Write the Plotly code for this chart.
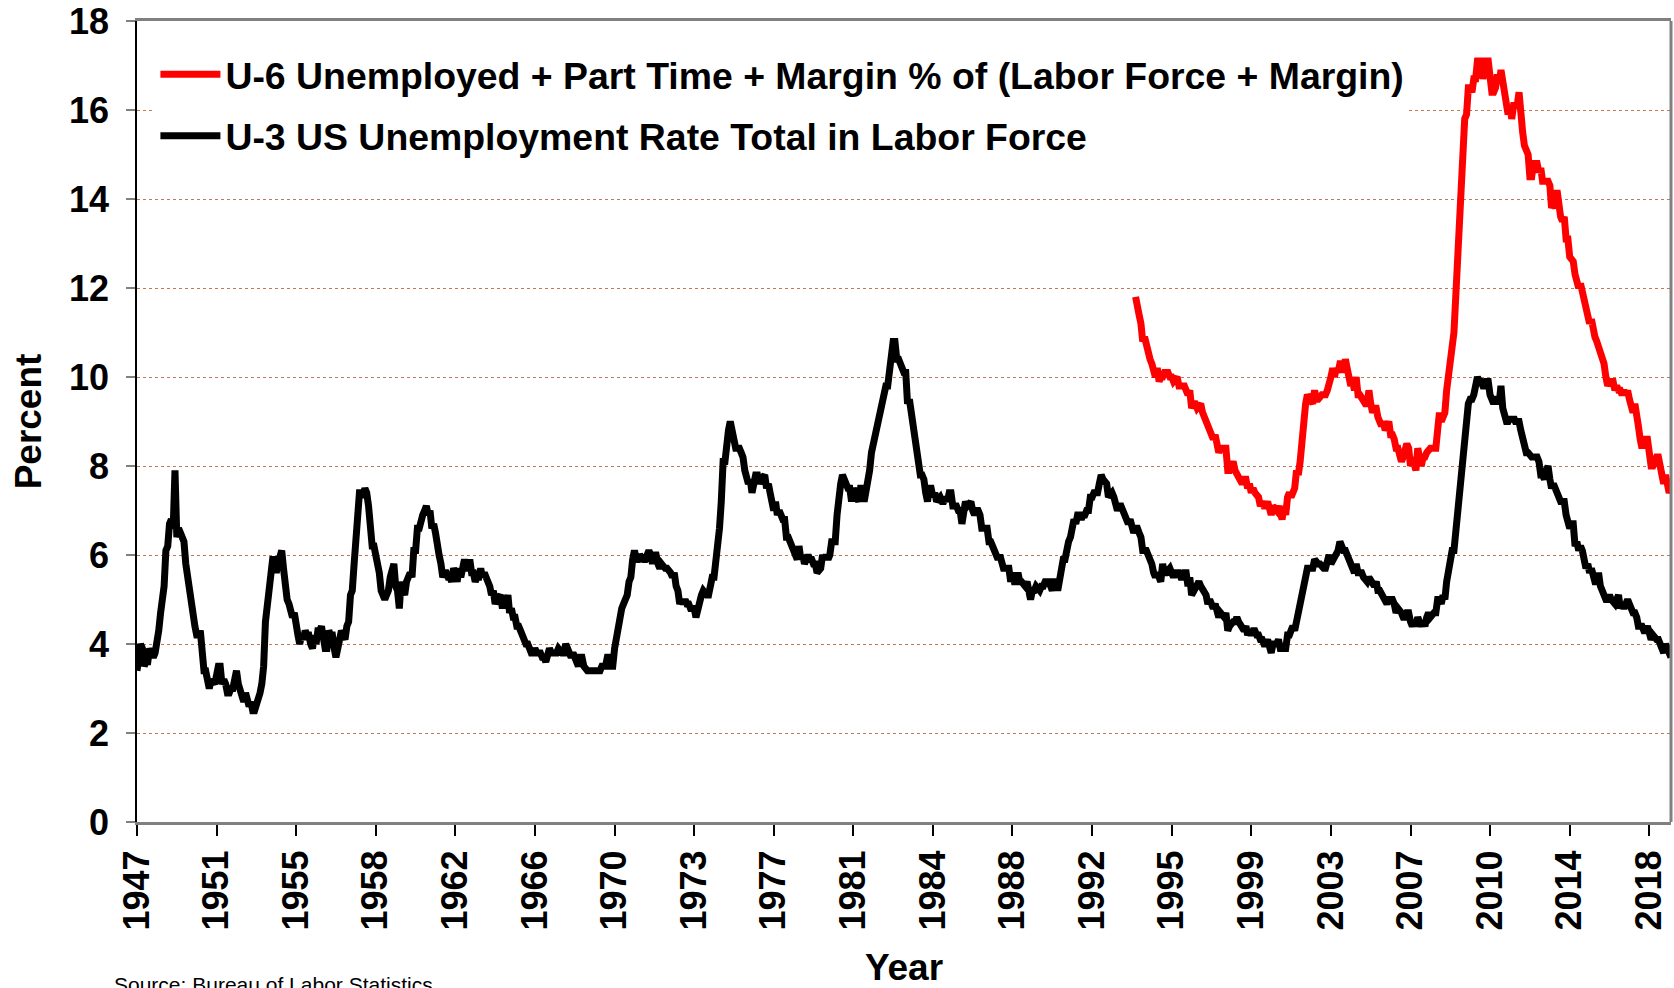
import plotly.graph_objects as go
import pandas as pd

# U-3 monthly unemployment rate, Jan 1948 .. Sep 2018
u3_values = [
    3.4, 3.8, 4.0, 3.9, 3.5, 3.6, 3.6, 3.9, 3.8, 3.7, 3.8, 4.0,
    4.3, 4.7, 5.0, 5.3, 6.1, 6.2, 6.7, 6.8, 6.6, 7.9, 6.4, 6.6,
    6.5, 6.4, 6.3, 5.8, 5.5, 5.4, 5.0, 4.5, 4.4, 4.2, 4.2, 4.3,
    3.7, 3.4, 3.4, 3.1, 3.0, 3.2, 3.1, 3.1, 3.3, 3.5, 3.5, 3.1,
    3.2, 3.1, 2.9, 2.9, 3.0, 3.0, 3.2, 3.4, 3.1, 3.0, 2.8, 2.7,
    2.9, 2.6, 2.6, 2.7, 2.5, 2.5, 2.6, 2.7, 2.9, 3.1, 3.5, 4.5,
    4.9, 5.2, 5.7, 5.9, 5.9, 5.6, 5.8, 6.0, 6.1, 5.7, 5.3, 5.0,
    4.9, 4.7, 4.6, 4.7, 4.3, 4.2, 4.0, 4.2, 4.1, 4.3, 4.2, 4.2,
    4.0, 3.9, 4.2, 4.0, 4.3, 4.3, 4.4, 4.1, 3.9, 3.9, 4.3, 4.2,
    4.2, 3.9, 3.7, 3.9, 4.1, 4.3, 4.2, 4.1, 4.4, 4.5, 5.1, 5.2,
    5.8, 6.4, 6.7, 7.4, 7.4, 7.3, 7.5, 7.4, 7.1, 6.7, 6.2, 6.2,
    6.0, 5.9, 5.6, 5.2, 5.1, 5.0, 5.1, 5.2, 5.5, 5.7, 5.8, 5.3,
    5.2, 4.8, 5.4, 5.2, 5.1, 5.4, 5.5, 5.6, 5.5, 6.1, 6.1, 6.6,
    6.6, 6.9, 6.9, 7.0, 7.1, 6.9, 7.0, 6.6, 6.7, 6.5, 6.1, 6.0,
    5.8, 5.5, 5.6, 5.6, 5.5, 5.5, 5.4, 5.7, 5.6, 5.4, 5.7, 5.5,
    5.7, 5.9, 5.7, 5.7, 5.9, 5.6, 5.6, 5.4, 5.5, 5.5, 5.7, 5.5,
    5.6, 5.4, 5.4, 5.3, 5.1, 5.2, 4.9, 5.0, 5.1, 5.1, 4.8, 5.0,
    4.9, 5.1, 4.7, 4.8, 4.6, 4.6, 4.4, 4.4, 4.3, 4.2, 4.1, 4.0,
    4.0, 3.8, 3.8, 3.8, 3.9, 3.8, 3.8, 3.8, 3.7, 3.7, 3.6, 3.8,
    3.9, 3.8, 3.8, 3.8, 3.8, 3.9, 3.8, 3.8, 3.8, 4.0, 3.9, 3.8,
    3.7, 3.8, 3.7, 3.5, 3.5, 3.7, 3.7, 3.5, 3.4, 3.4, 3.4, 3.4,
    3.4, 3.4, 3.4, 3.4, 3.4, 3.5, 3.5, 3.5, 3.7, 3.7, 3.5, 3.5,
    3.9, 4.2, 4.4, 4.6, 4.8, 4.9, 5.0, 5.1, 5.4, 5.5, 5.9, 6.1,
    5.9, 5.9, 6.0, 5.9, 5.9, 5.9, 6.0, 6.1, 6.0, 5.8, 6.0, 6.0,
    5.8, 5.7, 5.8, 5.7, 5.7, 5.7, 5.6, 5.6, 5.5, 5.6, 5.3, 5.2,
    4.9, 5.0, 4.9, 5.0, 4.9, 4.9, 4.8, 4.8, 4.8, 4.6, 4.8, 4.9,
    5.1, 5.2, 5.1, 5.1, 5.1, 5.4, 5.5, 5.5, 5.9, 6.0, 6.6, 7.2,
    8.1, 8.1, 8.6, 8.8, 9.0, 8.8, 8.6, 8.4, 8.4, 8.4, 8.3, 8.2,
    7.9, 7.7, 7.6, 7.7, 7.4, 7.6, 7.8, 7.8, 7.6, 7.7, 7.8, 7.8,
    7.5, 7.6, 7.4, 7.2, 7.0, 7.2, 6.9, 7.0, 6.8, 6.8, 6.8, 6.4,
    6.4, 6.3, 6.3, 6.1, 6.0, 5.9, 6.2, 5.9, 6.0, 5.8, 5.9, 6.0,
    5.9, 5.9, 5.8, 5.8, 5.6, 5.7, 5.7, 6.0, 5.9, 6.0, 5.9, 6.0,
    6.3, 6.3, 6.3, 6.9, 7.5, 7.6, 7.8, 7.7, 7.5, 7.5, 7.5, 7.2,
    7.5, 7.4, 7.4, 7.2, 7.5, 7.5, 7.2, 7.4, 7.6, 7.9, 8.3, 8.5,
    8.6, 8.9, 9.0, 9.3, 9.4, 9.6, 9.8, 9.8, 10.1, 10.4, 10.8, 10.8,
    10.4, 10.4, 10.3, 10.2, 10.1, 10.1, 9.4, 9.5, 9.2, 8.8, 8.5, 8.3,
    8.0, 7.8, 7.8, 7.7, 7.4, 7.2, 7.5, 7.5, 7.3, 7.4, 7.2, 7.3,
    7.3, 7.2, 7.2, 7.3, 7.2, 7.4, 7.4, 7.1, 7.1, 7.1, 7.0, 7.0,
    6.7, 7.2, 7.2, 7.1, 7.2, 7.2, 7.0, 6.9, 7.0, 7.0, 6.9, 6.6,
    6.6, 6.6, 6.6, 6.3, 6.3, 6.2, 6.1, 6.0, 5.9, 6.0, 5.8, 5.7,
    5.7, 5.7, 5.7, 5.4, 5.6, 5.4, 5.4, 5.6, 5.4, 5.4, 5.3, 5.3,
    5.4, 5.2, 5.0, 5.2, 5.2, 5.3, 5.2, 5.2, 5.3, 5.3, 5.4, 5.4,
    5.4, 5.3, 5.2, 5.4, 5.4, 5.2, 5.5, 5.7, 5.9, 5.9, 6.2, 6.3,
    6.4, 6.6, 6.8, 6.7, 6.9, 6.9, 6.8, 6.9, 6.9, 7.0, 7.0, 7.3,
    7.3, 7.4, 7.4, 7.4, 7.6, 7.8, 7.7, 7.6, 7.6, 7.3, 7.4, 7.4,
    7.3, 7.1, 7.0, 7.1, 7.1, 7.0, 6.9, 6.8, 6.7, 6.8, 6.6, 6.5,
    6.6, 6.6, 6.5, 6.4, 6.1, 6.1, 6.1, 6.0, 5.9, 5.8, 5.6, 5.5,
    5.6, 5.4, 5.4, 5.8, 5.6, 5.6, 5.7, 5.7, 5.6, 5.5, 5.6, 5.6,
    5.6, 5.5, 5.5, 5.6, 5.6, 5.3, 5.5, 5.1, 5.2, 5.2, 5.4, 5.4,
    5.3, 5.2, 5.2, 5.1, 4.9, 5.0, 4.9, 4.8, 4.9, 4.7, 4.6, 4.7,
    4.6, 4.6, 4.7, 4.3, 4.4, 4.5, 4.5, 4.5, 4.6, 4.5, 4.4, 4.4,
    4.3, 4.4, 4.2, 4.3, 4.2, 4.3, 4.3, 4.2, 4.2, 4.1, 4.1, 4.0,
    4.0, 4.1, 4.0, 3.8, 4.0, 4.0, 4.0, 4.1, 3.9, 3.9, 3.9, 3.9,
    4.2, 4.2, 4.3, 4.4, 4.3, 4.5, 4.6, 4.9, 5.0, 5.3, 5.5, 5.7,
    5.7, 5.7, 5.7, 5.9, 5.8, 5.8, 5.8, 5.7, 5.7, 5.7, 5.9, 6.0,
    5.8, 5.9, 5.9, 6.0, 6.1, 6.3, 6.2, 6.1, 6.1, 6.0, 5.8, 5.7,
    5.7, 5.6, 5.8, 5.6, 5.6, 5.6, 5.5, 5.4, 5.4, 5.5, 5.4, 5.4,
    5.3, 5.4, 5.2, 5.2, 5.1, 5.0, 5.0, 4.9, 5.0, 5.0, 5.0, 4.9,
    4.7, 4.8, 4.7, 4.7, 4.6, 4.6, 4.7, 4.7, 4.5, 4.4, 4.5, 4.4,
    4.6, 4.5, 4.4, 4.5, 4.4, 4.6, 4.7, 4.6, 4.7, 4.7, 4.7, 5.0,
    5.0, 4.9, 5.1, 5.0, 5.4, 5.6, 5.8, 6.1, 6.1, 6.5, 6.8, 7.3,
    7.8, 8.3, 8.7, 9.0, 9.4, 9.5, 9.5, 9.6, 9.8, 10.0, 9.9, 9.9,
    9.8, 9.8, 9.9, 9.9, 9.6, 9.4, 9.4, 9.5, 9.5, 9.4, 9.8, 9.3,
    9.1, 9.0, 9.0, 9.1, 9.0, 9.1, 9.0, 9.0, 9.0, 8.8, 8.6, 8.5,
    8.3, 8.3, 8.2, 8.2, 8.2, 8.2, 8.2, 8.1, 7.8, 7.8, 7.7, 7.9,
    8.0, 7.7, 7.5, 7.6, 7.5, 7.5, 7.3, 7.2, 7.2, 7.2, 6.9, 6.7,
    6.6, 6.7, 6.7, 6.2, 6.3, 6.1, 6.2, 6.1, 5.9, 5.7, 5.8, 5.6,
    5.7, 5.5, 5.4, 5.4, 5.6, 5.3, 5.2, 5.1, 5.0, 5.0, 5.1, 5.0,
    4.9, 4.9, 5.0, 5.1, 4.8, 4.9, 4.8, 4.9, 5.0, 4.9, 4.7, 4.7,
    4.7, 4.6, 4.4, 4.4, 4.4, 4.3, 4.3, 4.4, 4.2, 4.1, 4.2, 4.1,
    4.1, 4.1, 4.0, 3.9, 3.8, 4.0, 3.9, 3.8, 3.7,
]
u3_start = "1948-01-01"

# U-6 monthly rate, Jan 1994 .. Sep 2018
u6_values = [
    11.8, 11.4, 11.4, 11.2, 10.8, 10.9, 10.7, 10.5, 10.4, 10.3, 10.1, 10.0,
    10.2, 9.9, 10.0, 10.0, 10.1, 10.1, 10.1, 10.0, 10.0, 9.9, 10.0, 10.0,
    9.8, 9.8, 9.8, 9.8, 9.7, 9.6, 9.7, 9.3, 9.4, 9.4, 9.3, 9.4,
    9.4, 9.2, 9.1, 9.1, 8.9, 8.8, 8.7, 8.6, 8.7, 8.4, 8.3, 8.4,
    8.4, 8.4, 8.4, 7.9, 7.9, 8.0, 8.1, 7.9, 7.8, 7.8, 7.6, 7.6,
    7.7, 7.7, 7.5, 7.6, 7.4, 7.5, 7.4, 7.3, 7.3, 7.1, 7.2, 7.1,
    7.1, 7.2, 7.1, 6.9, 7.1, 7.0, 7.0, 7.1, 7.0, 6.8, 7.1, 6.9,
    7.3, 7.4, 7.3, 7.4, 7.5, 7.9, 7.8, 8.1, 8.7, 9.3, 9.4, 9.6,
    9.5, 9.5, 9.4, 9.7, 9.5, 9.5, 9.6, 9.6, 9.6, 9.6, 9.7, 9.8,
    10.0, 10.2, 10.0, 10.2, 10.1, 10.3, 10.3, 10.1, 10.4, 10.2, 10.0, 9.8,
    9.9, 9.7, 10.0, 9.6, 9.6, 9.5, 9.5, 9.4, 9.4, 9.7, 9.4, 9.2,
    9.3, 9.3, 9.1, 9.0, 8.9, 9.0, 8.8, 8.9, 9.0, 8.7, 8.7, 8.6,
    8.4, 8.4, 8.2, 8.1, 8.2, 8.4, 8.5, 8.4, 8.0, 8.2, 8.1, 7.9,
    8.4, 8.2, 8.0, 8.2, 8.2, 8.3, 8.4, 8.4, 8.4, 8.4, 8.4, 8.8,
    9.2, 9.0, 9.1, 9.2, 9.7, 10.1, 10.5, 10.8, 11.0, 11.8, 12.6, 13.6,
    14.2, 15.2, 15.8, 15.9, 16.5, 16.5, 16.4, 16.7, 16.7, 17.1, 17.1, 17.1,
    16.7, 17.0, 17.1, 17.1, 16.6, 16.4, 16.4, 16.5, 16.8, 16.6, 16.9, 16.6,
    16.2, 16.0, 15.9, 16.1, 15.8, 16.1, 16.1, 16.1, 16.4, 15.8, 15.5, 15.2,
    15.1, 15.0, 14.5, 14.5, 14.8, 14.8, 14.8, 14.6, 14.7, 14.4, 14.4, 14.4,
    14.4, 14.3, 13.8, 13.9, 13.8, 14.2, 13.8, 13.6, 13.5, 13.6, 13.1, 13.1,
    12.7, 12.6, 12.6, 12.3, 12.1, 12.0, 12.1, 11.9, 11.7, 11.5, 11.4, 11.2,
    11.3, 11.0, 10.9, 10.8, 10.7, 10.5, 10.4, 10.3, 10.0, 9.8, 9.9, 9.9,
    9.9, 9.7, 9.8, 9.7, 9.7, 9.6, 9.7, 9.6, 9.7, 9.5, 9.3, 9.2,
    9.4, 9.2, 8.9, 8.6, 8.4, 8.6, 8.6, 8.6, 8.3, 8.0, 8.0, 8.1,
    8.2, 8.2, 8.0, 7.8, 7.6, 7.8, 7.5, 7.4, 7.5,
]
u6_start = "1994-01-01"

tick_labels = ["1947", "1951", "1955", "1958", "1962", "1966", "1970", "1973",
               "1977", "1981", "1984", "1988", "1992", "1995", "1999", "2003",
               "2007", "2010", "2014", "2018"]

u6_name = "U-6 Unemployed + Part Time + Margin % of (Labor Force + Margin)"
u3_name = "U-3 US Unemployment Rate Total in Labor Force"

u3_dates = pd.date_range(u3_start, periods=len(u3_values), freq="MS")
u6_dates = pd.date_range(u6_start, periods=len(u6_values), freq="MS")
tick_dates = pd.date_range(u3_start, periods=len(tick_labels), freq="44MS")

FONT = "Liberation Sans, Arial, Helvetica, sans-serif"
GRID = "rgb(196,120,84)"

fig = go.Figure()
fig.add_trace(go.Scatter(x=u6_dates, y=u6_values, mode="lines", name=u6_name,
                         legendgroup="u6",
                         line=dict(color="#FF0000", width=7)))
fig.add_trace(go.Scatter(x=u3_dates, y=u3_values, mode="lines", name=u3_name,
                         legendgroup="u3",
                         line=dict(color="#000000", width=7)))

fig.update_layout(
    width=1674, height=988,
    margin=dict(l=137, r=3, t=21, b=166, autoexpand=False),
    paper_bgcolor="white", plot_bgcolor="white",
    font=dict(family=FONT, color="black"),
    showlegend=True,
    legend=dict(x=0.012, y=0.972, xanchor="left", yanchor="top",
                bgcolor="white", borderwidth=0,
                font=dict(family=FONT, size=37.4, color="black", weight="bold"),
                tracegroupgap=10, itemwidth=60),
    xaxis=dict(
        type="date", automargin=False,
        range=[u3_dates[0], u3_dates[-1]],
        tickmode="array", tickvals=tick_dates, ticktext=tick_labels,
        tickangle=-90, ticks="outside", ticklen=11, tickcolor="black", tickwidth=1.5,
        tickfont=dict(family=FONT, size=36, color="black", weight="bold"),
        showgrid=False, zeroline=False,
        showline=True, linecolor="#808080", linewidth=3, mirror=True,
        title=dict(text="Year", standoff=36,
                   font=dict(family=FONT, size=37, color="black", weight="bold")),
    ),
    yaxis=dict(
        range=[0, 18], dtick=2, tick0=0, automargin=False,
        ticks="outside", ticklen=9, tickcolor="#808080", tickwidth=2,
        ticklabelstandoff=10,
        tickfont=dict(family=FONT, size=36, color="black", weight="bold"),
        showgrid=True, gridcolor=GRID, gridwidth=1, griddash="dot",
        zeroline=False,
        showline=True, linecolor="black", linewidth=1.5,
        title=dict(text="Percent", standoff=16,
                   font=dict(family=FONT, size=37, color="black", weight="bold")),
    ),
    shapes=[dict(type="line", xref="paper", yref="paper", x0=1, x1=1, y0=0, y1=1,
                 line=dict(color="#808080", width=3), layer="above")],
    annotations=[dict(text="Source: Bureau of Labor Statistics", xref="paper", yref="paper",
                      x=-0.0163, y=-0.186, xanchor="left", yanchor="top", showarrow=False,
                      font=dict(family=FONT, size=21, color="black"))],
)

fig.write_html("out.html", config={"displayModeBar": False},
               post_script="document.body.style.margin='0';document.body.style.overflow='hidden';")
